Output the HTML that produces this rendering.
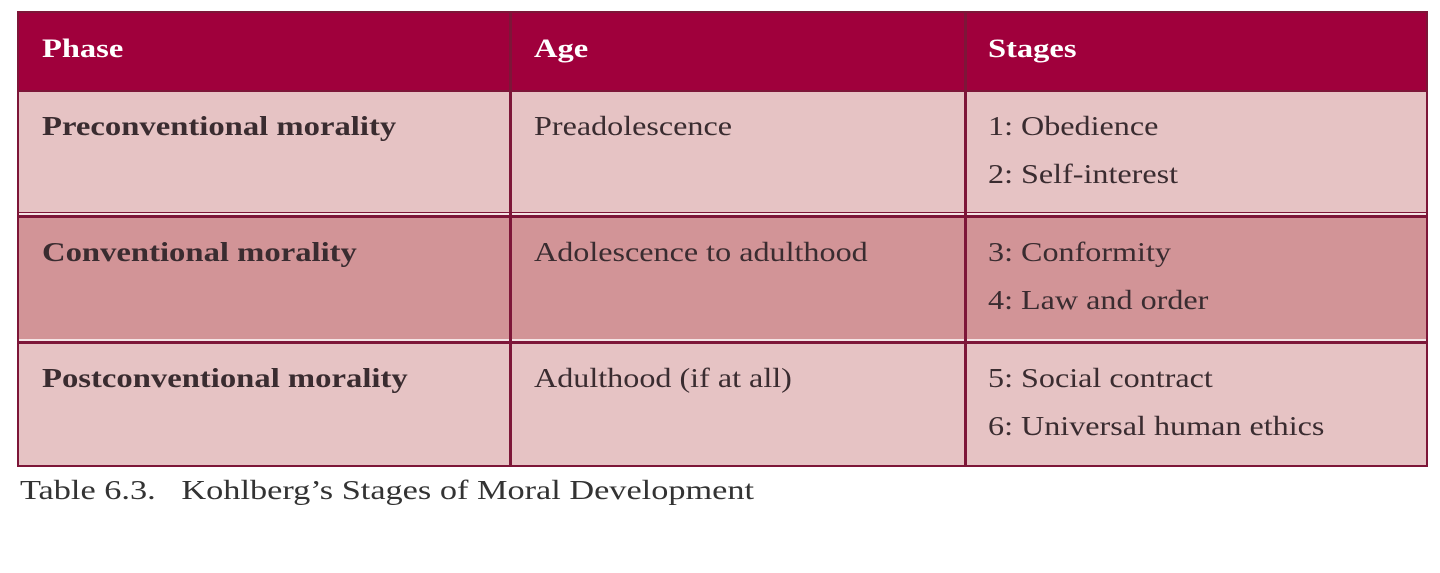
<!DOCTYPE html>
<html><head><meta charset="utf-8"><style>
body{margin:0;width:1440px;height:573px;background:#fff;position:relative;overflow:hidden;font-family:"Liberation Serif",serif;}
.a{position:absolute;}
.t{position:absolute;font-size:27px;color:#3a2c30;white-space:nowrap;line-height:30px;transform:scaleX(1.19);transform-origin:0 0;}
.b{font-weight:bold;transform:scaleX(1.21);}
.h{position:absolute;font-size:26px;color:#fff;font-weight:bold;line-height:30px;white-space:nowrap;transform:scaleX(1.25);transform-origin:0 0;}
</style></head><body>
<div class="a" style="left:17px;top:11px;width:1411px;height:456px;background:#7d1638;"></div>
<div class="a" style="left:19px;top:13px;width:1407px;height:77px;background:#a0003c;"></div>
<div class="a" style="left:19px;top:92px;width:1407px;height:120px;background:#e6c3c4;"></div>
<div class="a" style="left:19px;top:218px;width:1407px;height:121px;background:#d29497;"></div>
<div class="a" style="left:19px;top:344px;width:1407px;height:121px;background:#e6c3c4;"></div>
<div class="a" style="left:19px;top:213px;width:1407px;height:2px;background:#f4e4e5;"></div>
<div class="a" style="left:19px;top:339px;width:1407px;height:2px;background:#f4e4e5;"></div>
<div class="a" style="left:509px;top:13px;width:3px;height:452px;background:#7d1638;"></div>
<div class="a" style="left:964px;top:13px;width:3px;height:452px;background:#7d1638;"></div>

<div class="h" style="left:42px;top:34px;">Phase</div>
<div class="h" style="left:534px;top:34px;">Age</div>
<div class="h" style="left:988px;top:34px;">Stages</div>

<div class="t b" style="left:42px;top:111px;">Preconventional morality</div>
<div class="t" style="left:534px;top:111px;">Preadolescence</div>
<div class="t" style="left:988px;top:111px;">1: Obedience</div>
<div class="t" style="left:988px;top:159px;">2: Self-interest</div>

<div class="t b" style="left:42px;top:237px;">Conventional morality</div>
<div class="t" style="left:534px;top:237px;">Adolescence to adulthood</div>
<div class="t" style="left:988px;top:237px;">3: Conformity</div>
<div class="t" style="left:988px;top:285px;">4: Law and order</div>

<div class="t b" style="left:42px;top:363px;">Postconventional morality</div>
<div class="t" style="left:534px;top:363px;">Adulthood (if at all)</div>
<div class="t" style="left:988px;top:363px;">5: Social contract</div>
<div class="t" style="left:988px;top:411px;">6: Universal human ethics</div>

<div class="t" style="left:20px;top:475px;color:#333;font-size:27px;transform:scaleX(1.27);">Table 6.3.&nbsp;&nbsp; Kohlberg’s Stages of Moral Development</div>
</body></html>
